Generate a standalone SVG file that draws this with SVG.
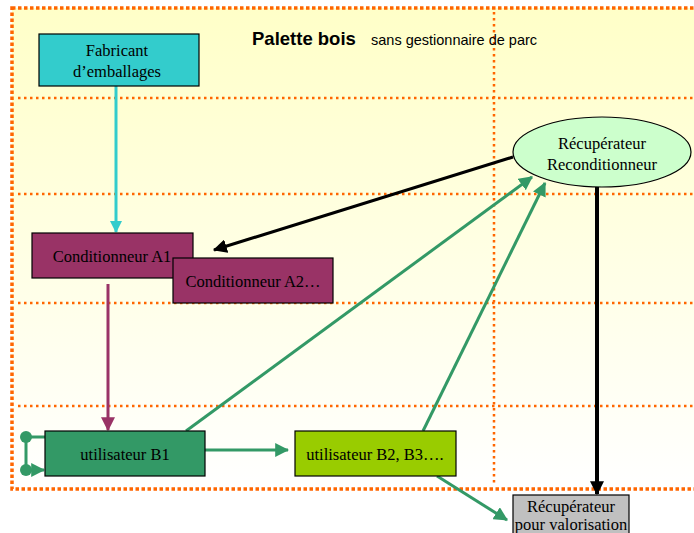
<svg xmlns="http://www.w3.org/2000/svg" width="694" height="533" viewBox="0 0 694 533">
<defs>
<linearGradient id="bg" x1="0" y1="0" x2="0" y2="1">
<stop offset="0" stop-color="#FFFFC8"/>
<stop offset="1" stop-color="#FFFFFF"/>
</linearGradient>
<marker id="mCyan" viewBox="0 0 12 12" refX="11" refY="6" markerWidth="12" markerHeight="12" markerUnits="userSpaceOnUse" orient="auto"><path d="M0,0 L12,6 L0,12 Z" fill="#33CCCC"/></marker>
<marker id="mPurple" viewBox="0 0 12 12" refX="11" refY="6" markerWidth="14" markerHeight="14" markerUnits="userSpaceOnUse" orient="auto"><path d="M0,0 L12,6 L0,12 Z" fill="#993366"/></marker>
<marker id="mGreen" viewBox="0 0 12 12" refX="11" refY="6" markerWidth="14" markerHeight="14" markerUnits="userSpaceOnUse" orient="auto"><path d="M0,0 L12,6 L0,12 Z" fill="#339966"/></marker>
<marker id="mBlack" viewBox="0 0 12 12" refX="11" refY="6" markerWidth="14" markerHeight="14" markerUnits="userSpaceOnUse" orient="auto"><path d="M0,0 L12,6 L0,12 Z" fill="#000000"/></marker>
</defs>
<style>
.grid{stroke:#FF6600;stroke-width:2.5;stroke-dasharray:2.5 3.5;fill:none}
.frame{stroke:#FF6600;stroke-width:3.5;stroke-dasharray:3.5 2.5;fill:url(#bg)}
.box{stroke:#000;stroke-width:1.2}
.t{font-family:"Liberation Serif","Times New Roman",serif;font-size:16.5px;fill:#000;text-anchor:middle}
.cg{stroke:#339966;stroke-width:3;fill:none}
</style>
<rect width="694" height="533" fill="#FFFFFF"/>
<g id="background">
<rect class="frame" x="12" y="8" width="690" height="481"/>
<line class="grid" x1="18" y1="98" x2="694" y2="98"/>
<line class="grid" x1="18" y1="194" x2="694" y2="194"/>
<line class="grid" x1="18" y1="303" x2="694" y2="303"/>
<line class="grid" x1="18" y1="406" x2="694" y2="406"/>
<line class="grid" x1="494" y1="12" x2="494" y2="484"/>
</g>
<g id="title">
<text x="252" y="45" font-family="'Liberation Sans',Arial,sans-serif" font-size="18.5" font-weight="bold" fill="#000">Palette bois</text>
<text x="371" y="45" font-family="'Liberation Sans',Arial,sans-serif" font-size="14.5" fill="#000">sans gestionnaire de parc</text>
</g>
<g id="connectors">
<line x1="116" y1="86" x2="116" y2="232" stroke="#33CCCC" stroke-width="3" marker-end="url(#mCyan)"/>
<line x1="108" y1="284" x2="108" y2="430" stroke="#993366" stroke-width="3" marker-end="url(#mPurple)"/>
<line x1="513" y1="157" x2="214" y2="250" stroke="#000" stroke-width="3" marker-end="url(#mBlack)"/>
<line x1="597" y1="187" x2="597" y2="494" stroke="#000" stroke-width="4" marker-end="url(#mBlack)"/>
<line class="cg" x1="186" y1="431" x2="532" y2="177" marker-end="url(#mGreen)"/>
<line class="cg" x1="423" y1="431" x2="545" y2="183" marker-end="url(#mGreen)"/>
<line class="cg" x1="205" y1="450" x2="288" y2="450" marker-end="url(#mGreen)"/>
<line class="cg" x1="437" y1="476" x2="507" y2="520" marker-end="url(#mGreen)"/>
<path class="cg" d="M45,437 H26 V470 H44" marker-end="url(#mGreen)"/>
<circle cx="26" cy="437" r="6" fill="#339966"/>
<circle cx="26" cy="470" r="6" fill="#339966"/>
</g>
<g id="fabricant">
<rect class="box" x="39" y="34" width="160" height="52" fill="#33CCCC"/>
<text class="t" x="117" y="56">Fabricant</text>
<text class="t" x="117" y="77">d’emballages</text>
</g>
<g id="conditionneurA1">
<rect class="box" x="32" y="233" width="161" height="45" fill="#993366"/>
<text class="t" x="112" y="262">Conditionneur A1</text>
</g>
<g id="conditionneurA2">
<rect class="box" x="173" y="258" width="160" height="45" fill="#993366"/>
<text class="t" x="253" y="287">Conditionneur A2…</text>
</g>
<g id="recuperateurReconditionneur">
<ellipse cx="602" cy="152" rx="89" ry="35" fill="#CCFFCC" stroke="#000" stroke-width="1.2"/>
<text class="t" x="602" y="149">Récupérateur</text>
<text class="t" x="602" y="170">Reconditionneur</text>
</g>
<g id="utilisateurB1">
<rect class="box" x="45" y="431" width="160" height="45" fill="#339966"/>
<text class="t" x="125" y="460">utilisateur B1</text>
</g>
<g id="utilisateurB2">
<rect class="box" x="295" y="431" width="161" height="45" fill="#99CC00"/>
<text class="t" x="375" y="460">utilisateur B2, B3….</text>
</g>
<g id="recuperateurValorisation">
<rect class="box" x="513" y="495" width="116" height="45" fill="#C0C0C0"/>
<text class="t" x="571" y="512" font-size="16">Récupérateur</text>
<text class="t" x="571" y="530" font-size="16">pour valorisation</text>
</g>
</svg>
